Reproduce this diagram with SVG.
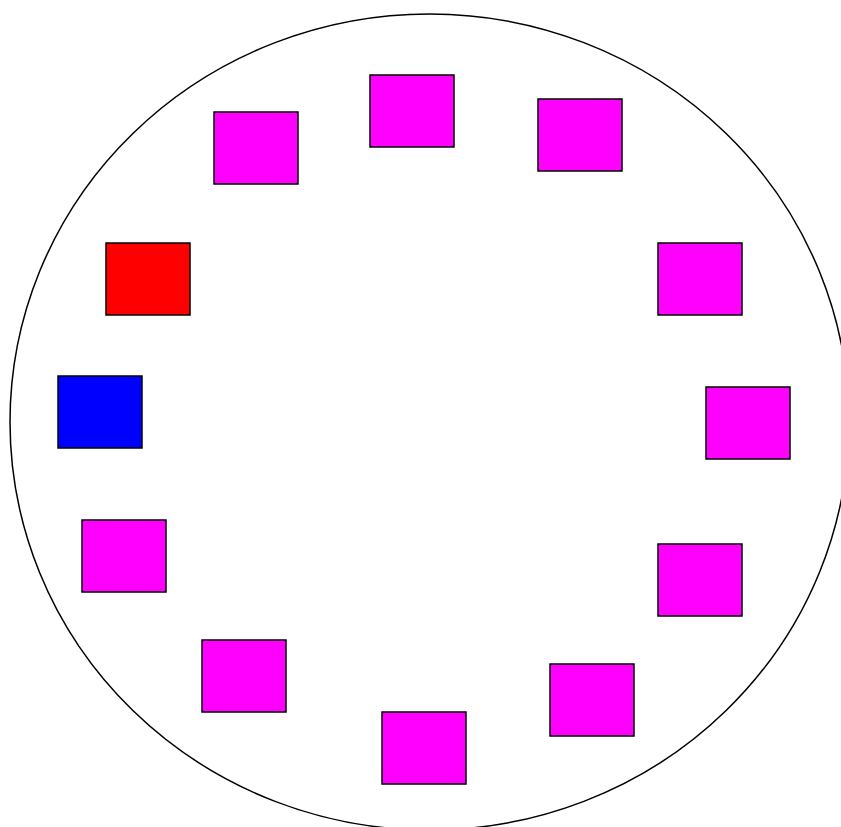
<svg xmlns="http://www.w3.org/2000/svg" width="841" height="827" viewBox="0 0 841 827">
<style>
.n{stroke:#000;stroke-width:1.5}
.m{fill:#ff00ff}
</style>
<rect width="841" height="827" fill="#fff"/>
<ellipse cx="429.5" cy="422" rx="419.5" ry="408" fill="none" stroke="#000" stroke-width="1.5"/>
<g id="connectors"></g>
<g id="n1"><rect class="n m" x="370" y="75" width="84" height="72"/></g>
<g id="n2"><rect class="n m" x="538" y="99" width="84" height="72"/></g>
<g id="n3"><rect class="n m" x="658" y="243" width="84" height="72"/></g>
<g id="n4"><rect class="n m" x="706" y="387" width="84" height="72"/></g>
<g id="n5"><rect class="n m" x="658" y="544" width="84" height="72"/></g>
<g id="n6"><rect class="n m" x="550" y="664" width="84" height="72"/></g>
<g id="n7"><rect class="n m" x="382" y="712" width="84" height="72"/></g>
<g id="n8"><rect class="n m" x="202" y="640" width="84" height="72"/></g>
<g id="n9"><rect class="n m" x="82" y="520" width="84" height="72"/></g>
<g id="n10"><rect class="n" fill="#0000ff" x="58" y="376" width="84" height="72"/></g>
<g id="n11"><rect class="n" fill="#ff0000" x="106" y="243" width="84" height="72"/></g>
<g id="n12"><rect class="n m" x="214" y="112" width="84" height="72"/></g>
</svg>
